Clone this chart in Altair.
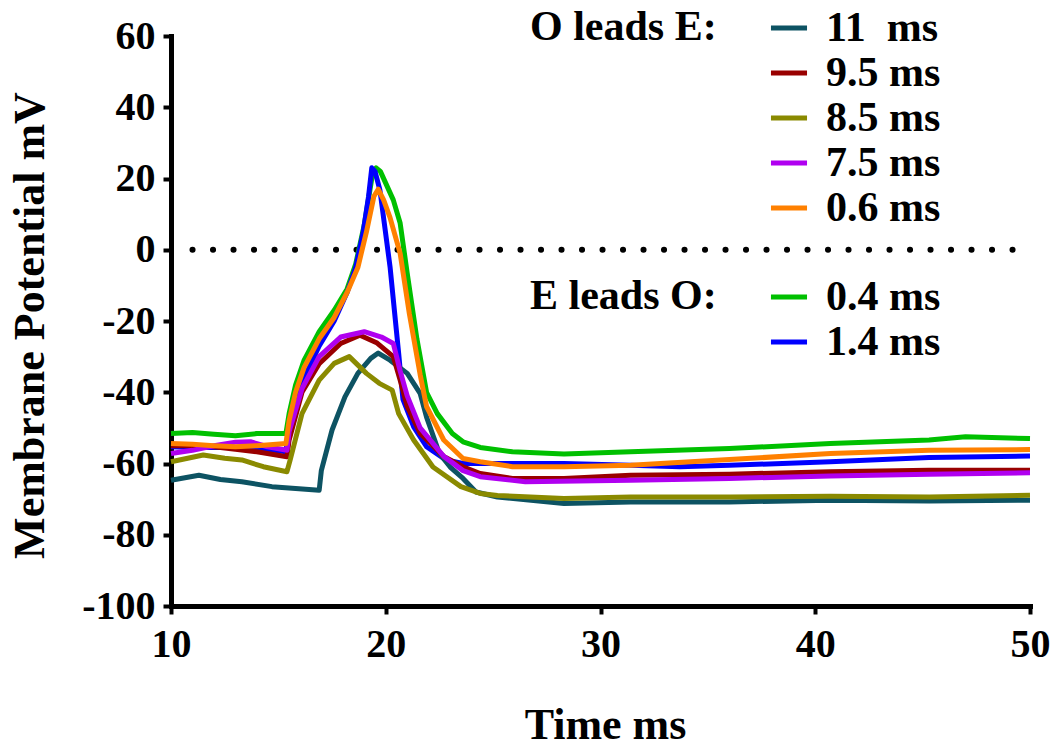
import altair as alt
import pandas as pd

FONT = "Liberation Serif"

# ---- O leads E series ----
t_11 = [10, 11.3, 12.3, 13.3, 14.7, 16.9, 17.0, 17.5, 18.1, 18.7, 19.3, 19.65, 20.2, 21.0, 21.6, 21.9, 22.5, 23.0, 23.6, 24.2, 25.2, 28.3, 31.4, 36, 40.7, 45.3, 50]
v_11 = [-64.7, -63.3, -64.5, -65.1, -66.5, -67.5, -62, -50.6, -41.3, -34.7, -30.5, -29, -31, -34.7, -40.3, -47, -57.2, -61, -64.2, -68, -69.4, -71.2, -70.8, -70.8, -70.3, -70.5, -70.3]

t_95 = [10, 11, 12, 13, 14, 15.4, 15.5, 16.1, 16.9, 17.9, 18.8, 19.6, 20.35, 20.67, 21.0, 21.6, 22.7, 23.6, 24.4, 25.9, 28.3, 31.4, 36, 40.7, 45.3, 50]
v_95 = [-55, -55, -55.3, -56, -56.7, -58.1, -53.4, -40, -32, -26.3, -24, -26.2, -30, -36.6, -44, -51.5, -58, -60.9, -62.8, -64.2, -64.2, -63.3, -63, -62.3, -61.9, -61.9]

t_85 = [10, 11.5, 12.5, 13.3, 14.3, 15.4, 15.55, 16.1, 16.9, 17.6, 18.3, 19.1, 19.7, 20.3, 20.6, 21.3, 22.2, 23.5, 24.4, 25.2, 28.3, 31.4, 36, 40.7, 45.3, 50]
v_85 = [-59.5, -57.6, -58.5, -59, -60.9, -62.3, -59, -46, -36.6, -31.9, -30, -34.7, -37.5, -39.4, -46, -53.4, -61, -66.5, -68.4, -69, -69.8, -69.4, -69.4, -69.2, -69.4, -68.9]

t_75 = [10, 11, 12, 13, 13.7, 14.5, 15.4, 15.5, 16.1, 16.9, 17.9, 19.0, 19.8, 20.35, 20.67, 21.0, 21.6, 22.7, 23.6, 24.4, 26.5, 31.4, 36, 40.7, 45.3, 50]
v_75 = [-57.2, -56.3, -55, -54, -53.9, -55.3, -56.3, -51, -39, -30, -24.5, -23, -24.5, -26.3, -34, -41, -50, -58, -62, -63.7, -65.1, -64.7, -64.2, -63.5, -63, -62.6]

t_06 = [10, 11, 12, 13, 14, 15.35, 15.5, 15.8, 16.2, 16.9, 17.6, 18.2, 18.7, 19.1, 19.45, 19.65, 19.9, 20.2, 20.67, 21.1, 21.6, 21.9, 22.7, 23.6, 24.4, 25.9, 28.3, 31.4, 36, 40.7, 45.3, 50]
v_06 = [-54.4, -54.6, -55, -55.3, -55, -54.4, -48, -40, -33, -25, -19, -12, -5, 5, 15, 17, 14, 9, -1, -18, -35, -44, -53.4, -58.6, -59.5, -60.9, -60.9, -60.5, -58.9, -57.2, -56.3, -56.1]

# ---- E leads O series ----
t_04 = [10, 11, 12, 13, 14, 15.35, 15.5, 15.8, 16.2, 16.9, 17.6, 18.2, 18.6, 19.0, 19.35, 19.55, 19.75, 20.35, 20.67, 21.0, 21.45, 21.9, 22.4, 23.1, 23.6, 24.4, 25.9, 28.3, 31.4, 36, 40.7, 45.3, 47, 50]
v_04 = [-51.6, -51.3, -51.8, -52.2, -51.6, -51.6, -46, -38, -31, -23, -17, -11, -4, 7, 20, 23, 22, 14, 7.5, -6.6, -25, -40, -46, -51.6, -53.9, -55.5, -56.7, -57.3, -56.7, -55.8, -54.4, -53.4, -52.5, -53]

t_14 = [10, 11, 12, 13, 14, 14.8, 15.35, 15.5, 15.8, 16.2, 16.9, 17.6, 18.2, 18.6, 18.95, 19.2, 19.35, 19.5, 19.73, 20.2, 20.6, 20.8, 21.3, 21.9, 22.8, 23.6, 25.2, 28.3, 31.4, 33.7, 36, 40.7, 45.3, 50]
v_14 = [-55.3, -55.5, -55.5, -55.5, -55.5, -56.3, -56.7, -50, -43, -36, -27, -20, -12, -5, 5, 15, 23, 22, 16.7, -4.8, -29, -42, -49.7, -55.3, -59, -60, -60, -60, -60.5, -60.9, -60.5, -59.5, -58.3, -57.9]

labels_oe = ["11\u00a0\u00a0ms", "9.5 ms", "8.5 ms", "7.5 ms", "0.6 ms"]
colors_oe = ["#0d5363", "#990000", "#8a8a00", "#b000f0", "#ff8000"]
labels_eo = ["0.4 ms", "1.4 ms"]
colors_eo = ["#00c000", "#0000ff"]

zero_line = {"y": [0], "x": [11.0], "x2": [49.2]}

def frame(ts, vs, label, key):
    return pd.DataFrame({"t": ts, "v": vs, key: label})

df_oe = pd.concat([
    frame(t_11, v_11, labels_oe[0], "oe"),
    frame(t_95, v_95, labels_oe[1], "oe"),
    frame(t_85, v_85, labels_oe[2], "oe"),
    frame(t_75, v_75, labels_oe[3], "oe"),
    frame(t_06, v_06, labels_oe[4], "oe"),
], ignore_index=True)
df_oe["order"] = range(len(df_oe))

df_eo = pd.concat([
    frame(t_04, v_04, labels_eo[0], "eo"),
    frame(t_14, v_14, labels_eo[1], "eo"),
], ignore_index=True)
df_eo["order"] = range(len(df_eo))

x_scale = alt.Scale(domain=[10, 50], nice=False, zero=False)
y_scale = alt.Scale(domain=[-100, 60], nice=False, zero=False)

x_axis = alt.Axis(values=[10, 20, 30, 40, 50], title="Time ms",
                  titleX=434, titleY=132, titleBaseline="alphabetic", titleAlign="center",
                  labelPadding=10, labelFlush=False, labelOverlap=False,
                  labelExpr="datum.value + ''")
y_axis = alt.Axis(values=[-100, -80, -60, -40, -20, 0, 20, 40, 60], title="Membrane Potential mV",
                  titleX=-128, titleY=289, titleBaseline="alphabetic", titleAlign="center",
                  labelPadding=8, labelFlush=False, labelOverlap=False,
                  labelExpr="datum.value + ''")

legend_common = dict(
    orient="none", titleOrient="left", symbolType="stroke", symbolStrokeWidth=5,
    symbolSize=1300, labelFont=FONT, labelFontSize=42, labelFontWeight="bold",
    labelColor="black", titleFont=FONT, titleFontSize=42, titleFontWeight="bold",
    titleColor="black", labelOffset=16, titlePadding=51, rowPadding=3, padding=0,
    titleBaseline="top", titleAnchor="start", titleLimit=400, labelLimit=300,
)

eo_lines = alt.Chart(df_eo).mark_line(strokeWidth=5, strokeJoin="round").encode(
    x=alt.X("t:Q", scale=x_scale, axis=x_axis),
    y=alt.Y("v:Q", scale=y_scale, axis=y_axis),
    color=alt.Color("eo:N", scale=alt.Scale(domain=labels_eo, range=colors_eo),
                    legend=alt.Legend(title="E leads O:", legendX=359, legendY=240, **legend_common)),
    order="order:Q",
)

oe_lines = alt.Chart(df_oe).mark_line(strokeWidth=5, strokeJoin="round").encode(
    x=alt.X("t:Q", scale=x_scale),
    y=alt.Y("v:Q", scale=y_scale),
    color=alt.Color("oe:N", scale=alt.Scale(domain=labels_oe, range=colors_oe),
                    legend=alt.Legend(title="O leads E:", legendX=359, legendY=-29, **legend_common)),
    order="order:Q",
)

zero = alt.Chart(pd.DataFrame(zero_line)).mark_rule(
    color="black", strokeWidth=6, strokeCap="round", strokeDash=[0.1, 20.4]
).encode(x="x:Q", x2="x2:Q", y="y:Q")

chart = alt.layer(zero, eo_lines, oe_lines).resolve_scale(color="independent").properties(
    width=859, height=570,
    background="white",
    autosize=alt.AutoSizeParams(type="none"),
    padding={"left": 171, "top": 36, "right": 23, "bottom": 144},
).configure_view(stroke=None).configure_axis(
    grid=False, domainColor="black", domainWidth=5, tickColor="black", tickWidth=4,
    tickSize=8, labelFont=FONT, labelFontSize=40, labelFontWeight="bold", labelColor="black",
    titleFont=FONT, titleFontSize=44, titleFontWeight="bold", titleColor="black",
    domainCap="square",
)

chart.save("out.html", embed_options={"renderer": "svg", "actions": False})
